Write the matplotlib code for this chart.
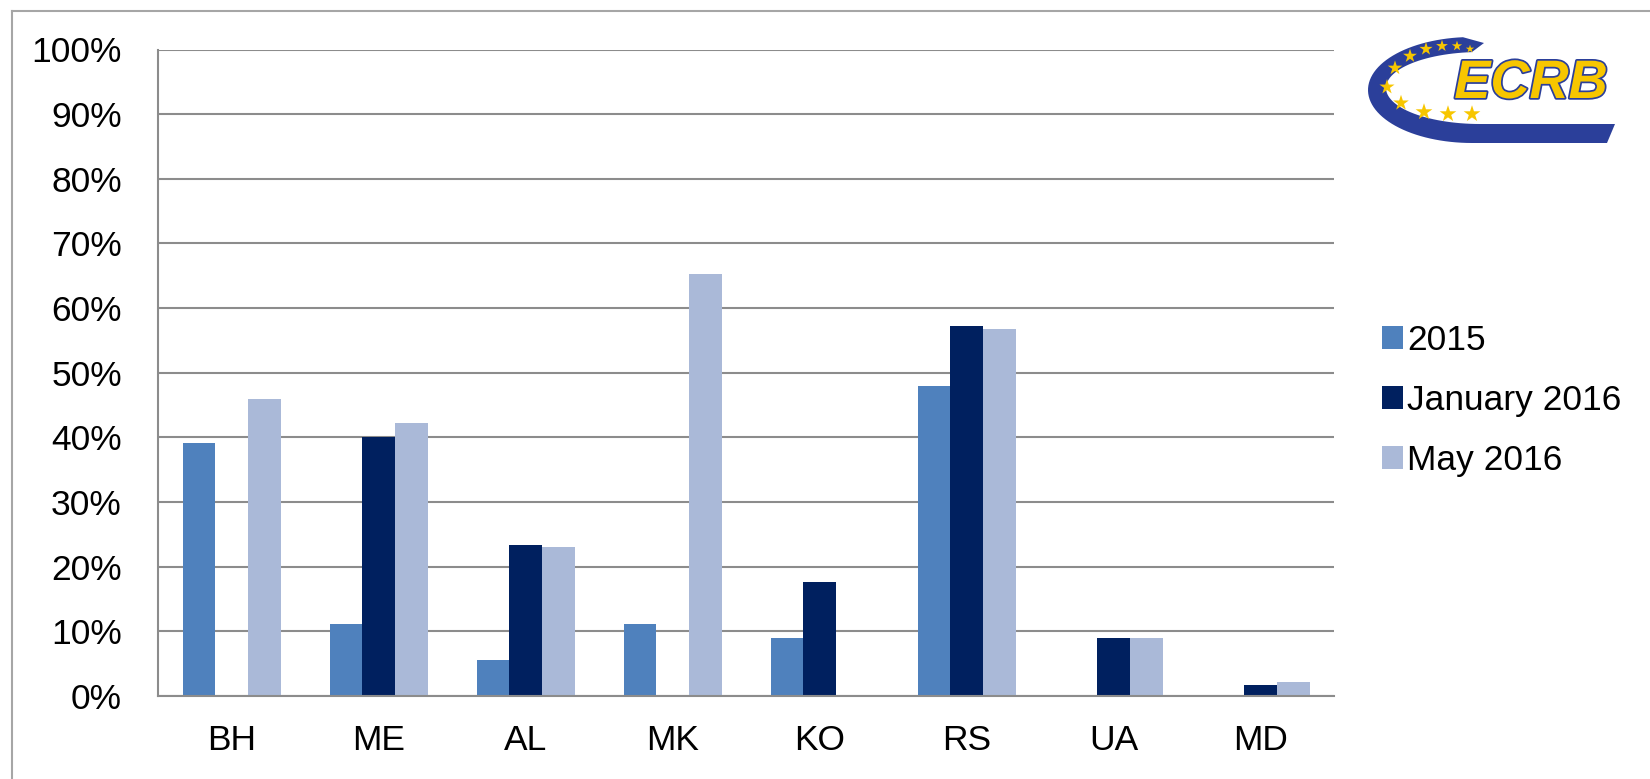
import numpy as np
import matplotlib
matplotlib.use('Agg')
import matplotlib.pyplot as plt
from matplotlib.patches import Polygon
import matplotlib.patheffects as pe

plt.rcParams['font.family'] = ['Liberation Sans', 'DejaVu Sans']

COUNTRIES = ["BH", "ME", "AL", "MK", "KO", "RS", "UA", "MD"]
SERIES = ["2015", "January 2016", "May 2016"]
V_2015 = [39.2, 11.1, 5.5, 11.1, 8.9, 47.9, 0.0, 0.0]
V_JAN16 = [0.0, 40.1, 23.3, 0.0, 17.7, 57.2, 8.9, 1.7]
V_MAY16 = [45.9, 42.2, 23.0, 65.2, 0.0, 56.8, 8.9, 2.2]
YTICKS = [0, 10, 20, 30, 40, 50, 60, 70, 80, 90, 100]
COLORS = ["#4F81BD", "#00205F", "#AAB9D8"]

W, H = 1650, 779
fig = plt.figure(figsize=(W / 100, H / 100), dpi=100)

# outer frame (top and left edges only visible)
fig.add_artist(plt.Line2D([12 / W, 1], [1 - 11 / H, 1 - 11 / H], color="#A6A6A6", lw=1.5))
fig.add_artist(plt.Line2D([12 / W, 12 / W], [0, 1 - 11 / H], color="#A6A6A6", lw=1.5))

ax = fig.add_axes([158 / W, 1 - 696 / H, (1334 - 158) / W, (696 - 49.5) / H])

x = np.arange(len(COUNTRIES))
bw = 1 / 4.5
for i, (vals, name) in enumerate(zip([V_2015, V_JAN16, V_MAY16], SERIES)):
	ax.bar(x + (i - 1) * bw, vals, width=bw, color=COLORS[i], label=name, zorder=3)

ax.set_xlim(-0.5, len(COUNTRIES) - 0.5)
ax.set_ylim(0, 100)
ax.set_yticks(YTICKS)
ax.set_yticklabels(["{}%".format(t) for t in YTICKS], fontsize=25.5)
ax.set_xticks(x)
ax.set_xticklabels(COUNTRIES, fontsize=25.5)
ax.tick_params(axis='y', length=0, pad=26)
ax.tick_params(axis='x', length=0, pad=20)
ax.grid(axis='y', color="#8C8C8C", lw=1.5, zorder=0)
for s in ["top", "right"]:
	ax.spines[s].set_visible(False)
for s in ["left", "bottom"]:
	ax.spines[s].set_color("#8C8C8C")
	ax.spines[s].set_linewidth(1.5)
	ax.spines[s].set_zorder(4)

leg = ax.legend(loc="upper left", bbox_to_anchor=(1382 / W, 1 - 324 / H),
	bbox_transform=fig.transFigure, frameon=False, fontsize=25.5,
	handlelength=0.58, handleheight=0.62, handletextpad=0.13,
	labelspacing=0.76, borderpad=0, borderaxespad=0)

# ECRB logo
lax = fig.add_axes([1350 / W, 1 - 160 / H, 300 / W, 140 / H])
lax.set_xlim(1350, 1650)
lax.set_ylim(160, 20)
lax.axis('off')

def ell(cx, cy, a, b, t0, t1, n=60):
	t = np.radians(np.linspace(t0, t1, n))
	return np.column_stack([cx + a * np.cos(t), cy - b * np.sin(t)])

outer = ell(1472, 90, 104, 53, 95, 270)
inner = ell(1480, 88, 94, 36, 270, 95)
pts = np.vstack([[[1484, 43]], outer, [[1607, 143], [1615, 124]], inner])
lax.add_patch(Polygon(pts, closed=True, color="#2B3F9A", lw=0))

star_x = [1395, 1410, 1426, 1442, 1457, 1470, 1387, 1401, 1424, 1448, 1472]
star_y = [68, 56, 49, 46, 46, 49, 87, 103, 112, 114, 114]
star_s = [120, 110, 100, 80, 60, 40, 130, 140, 160, 160, 160]
lax.scatter(star_x, star_y, s=star_s, marker='*', color="#F7C600", lw=0)

lax.text(1531, 84, "ECRB", fontsize=39, fontweight='bold', fontstyle='italic',
	color="#F7C600", ha='center', va='center',
	path_effects=[pe.withStroke(linewidth=2.5, foreground="#2B3F9A")])

fig.savefig("out.png", dpi=100)
